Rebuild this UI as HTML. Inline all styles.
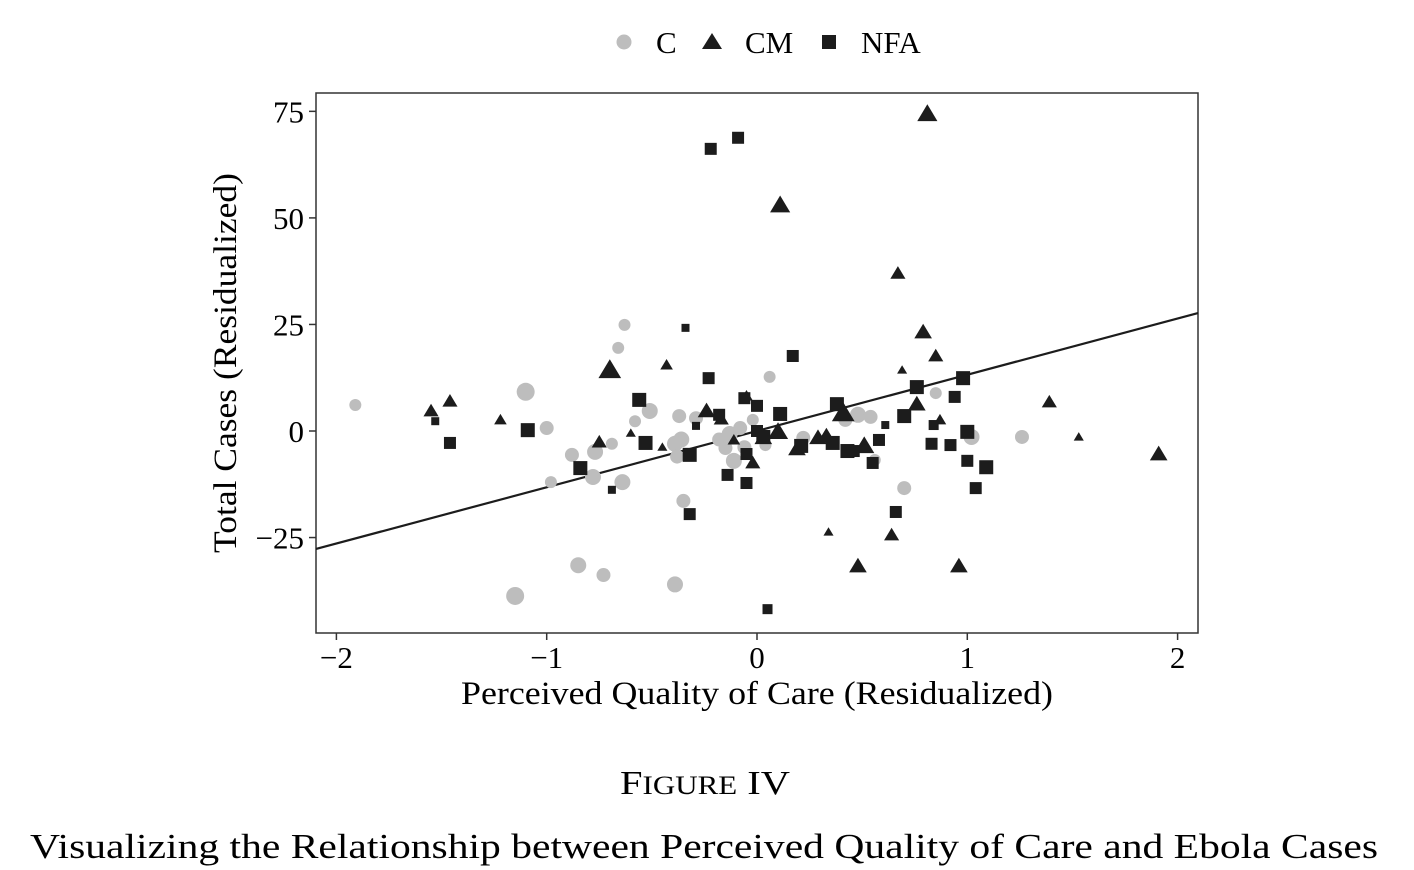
<!DOCTYPE html>
<html><head><meta charset="utf-8"><style>
html,body{margin:0;padding:0;background:#fff;}
svg{display:block;font-family:"Liberation Serif",serif;}
</style></head><body>
<svg id="chart" width="1414" height="870" viewBox="0 0 1414 870">
<g id="legend">
 <circle cx="624" cy="42" r="7.5" fill="#bdbdbd"/>
 <text x="656" y="53" font-size="31">C</text>
 <polygon points="712,33 722,49 702,49" fill="#1c1c1c"/>
 <text x="745" y="53" font-size="31">CM</text>
 <rect x="822" y="35" width="14" height="14" fill="#1c1c1c"/>
 <text x="861" y="53" font-size="31">NFA</text>
</g>
<rect x="316" y="93" width="882" height="540" fill="none" stroke="#333" stroke-width="1.5"/>
<g id="axes"></g>
<g id="marks"></g>
<text transform="translate(236,363) rotate(-90)" text-anchor="middle" font-size="33" textLength="380" lengthAdjust="spacingAndGlyphs">Total Cases (Residualized)</text>
<text x="757" y="704" text-anchor="middle" font-size="33" textLength="592" lengthAdjust="spacingAndGlyphs">Perceived Quality of Care (Residualized)</text>
<text x="705" y="794" text-anchor="middle" font-size="34" textLength="170" lengthAdjust="spacingAndGlyphs">F<tspan font-size="26">IGURE</tspan> IV</text>
<text x="704" y="858" text-anchor="middle" font-size="35" textLength="1348" lengthAdjust="spacingAndGlyphs">Visualizing the Relationship between Perceived Quality of Care and Ebola Cases</text>
</svg>
<script>
const xTicks = [-2,-1,0,1,2];
const xTickLabels = ["\u22122","\u22121","0","1","2"];
const yTicks = [75,50,25,0,-25];
const yTickLabels = ["75","50","25","0","\u221225"];
const cX = [-1.91,-1.10,-1.0,-0.98,-0.88,-0.85,-1.15,-0.73,-0.63,-0.66,-0.77,-0.78,-0.69,-0.64,-0.58,-0.51,-0.37,-0.29,-0.36,-0.39,-0.38,-0.35,-0.39,-0.18,-0.15,-0.08,-0.11,-0.13,-0.02,0.06,0.04,0.22,0.42,0.48,0.54,0.56,0.70,0.85,1.02,1.26,-0.06];
const cY = [6.1,9.2,0.7,-12,-5.6,-31.5,-38.7,-33.8,24.9,19.5,-4.9,-10.8,-3,-12,2.3,4.7,3.5,3,-2,-3,-6,-16.4,-36,-2,-4,0.7,-7,-0.7,2.6,12.7,-3.3,-1.6,2.6,3.8,3.3,-6.8,-13.4,8.9,-1.4,-1.4,-3.8];
const cS = [6,9,7,6,7,8,9,7,6,6,8,8,6,8,6,8,7,7,8,8,7,7,8,7,7,7,8,8,6,6,6,7,7,8,7,6,7,6,8,7,7];
const cmX = [-1.55,-1.46,-1.22,-0.70,-0.75,-0.6,-0.43,-0.45,-0.24,-0.17,-0.11,-0.05,-0.02,0.03,0.10,0.11,0.19,0.29,0.33,0.34,0.41,0.51,0.48,0.64,0.67,0.69,0.76,0.79,0.81,0.85,0.87,0.96,1.39,1.53,1.91];
const cmY = [4.7,7,2.6,14.3,-2.6,-0.5,15.5,-3.8,4.7,2.8,-2.1,8.2,-7.5,-1.6,-0.2,53,-4.2,-1.6,-1.2,-23.7,4.2,-3.5,-31.7,-24.4,37,14.3,6.3,23.2,74.4,17.6,2.6,-31.7,6.8,-1.4,-5.4];
const cmS = [6,6,5,9,6,4,5,4,7,6,5,5,6,7,8,8,7,7,7,4,9,8,7,6,6,4,7,7,8,6,5,7,6,4,7];
const nfaX = [-1.53,-1.46,-1.09,-0.84,-0.69,-0.56,-0.53,-0.34,-0.32,-0.32,-0.29,-0.23,-0.22,-0.18,-0.14,-0.09,-0.06,-0.05,-0.05,0,0,0.03,0.11,0.05,0.17,0.21,0.38,0.36,0.43,0.46,0.58,0.55,0.61,0.66,0.70,0.76,0.83,0.84,0.92,0.94,0.98,1.0,1.0,1.04,1.09];
const nfaY = [2.3,-2.8,0.2,-8.7,-13.8,7.3,-2.8,24.2,-5.6,-19.5,1.2,12.4,66.2,3.8,-10.3,68.8,7.7,-12.2,-5.4,0,5.9,-1.4,4,-41.8,17.6,-3.5,6.3,-2.8,-4.7,-4.7,-2.1,-7.5,1.4,-19,3.5,10.3,-3,1.4,-3.3,8,12.4,-0.2,-7,-13.4,-8.5];
const nfaS = [4,6,7,7,4,7,7,4,7,6,4,6,6,6,6,6,6,6,6,6,6,7,7,5,6,7,7,7,7,6,6,6,4,6,7,7,6,5,6,6,7,7,6,6,7];
const fitIntercept = 0;
const fitSlope = 13.2;

const NS = "http://www.w3.org/2000/svg";
const sx = v => 757 + v * 210.3;
const sy = v => 431 - v * 4.262;
const axes = document.getElementById('axes');
const marks = document.getElementById('marks');
function mk(tag, attrs, parent) {
  const e = document.createElementNS(NS, tag);
  for (const k in attrs) e.setAttribute(k, attrs[k]);
  parent.appendChild(e);
  return e;
}
xTicks.forEach((t, i) => {
  const l = mk('line', {x1: sx(t), x2: sx(t), y1: 633, y2: 640, stroke: '#333', 'stroke-width': 1.5}, axes);
  
  
  const tx = mk('text', {x: sx(t), y: 668, 'text-anchor': 'middle', 'font-size': 31}, axes);
  tx.textContent = xTickLabels[i];
  
  
});
yTicks.forEach((t, i) => {
  const l = mk('line', {x1: 309, x2: 316, y1: sy(t), y2: sy(t), stroke: '#333', 'stroke-width': 1.5}, axes);
  
  
  const tx = mk('text', {x: 304, y: sy(t) + 11, 'text-anchor': 'end', 'font-size': 31}, axes);
  tx.textContent = yTickLabels[i];
  
  
});
const x0 = (316 - 757) / 210.3, x1 = (1198 - 757) / 210.3;
const fit = mk('line', {x1: sx(x0), y1: sy(fitIntercept + fitSlope * x0), x2: sx(x1), y2: sy(fitIntercept + fitSlope * x1), stroke: '#1c1c1c', 'stroke-width': 2.2}, marks);


cX.forEach((v, i) => {
  const c = mk('circle', {cx: sx(v), cy: sy(cY[i]), r: cS[i], fill: '#bdbdbd'}, marks);
  
  
});
cmX.forEach((v, i) => {
  const x = sx(v), y = sy(cmY[i]), s = cmS[i] * 1.2;
  const p = mk('polygon', {points: `${x},${y - s} ${x + s * 1.05},${y + s * 0.75} ${x - s * 1.05},${y + s * 0.75}`, fill: '#1c1c1c'}, marks);
  
  
});
nfaX.forEach((v, i) => {
  const s = nfaS[i];
  const r = mk('rect', {x: sx(v) - s, y: sy(nfaY[i]) - s, width: 2 * s, height: 2 * s, fill: '#1c1c1c'}, marks);
  
  
});
</script>
</body></html>
